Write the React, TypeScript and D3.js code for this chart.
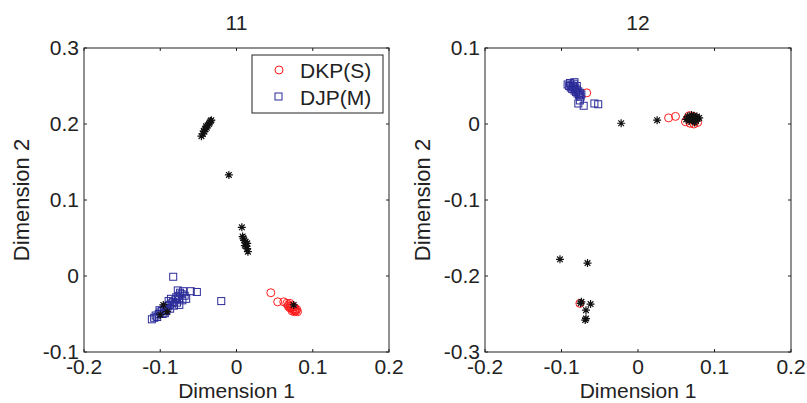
import React from "react";
import * as d3 from "d3";

type Pt = [number, number];

// Panel "11"
const xTicks = [-0.2, -0.1, 0, 0.1, 0.2];
const yTicks11 = [-0.1, 0, 0.1, 0.2, 0.3];
const yTicks12 = [-0.3, -0.2, -0.1, 0, 0.1];

const dkp11: Pt[] = [
  [0.045, -0.022], [0.054, -0.034], [0.062, -0.034], [0.066, -0.036], [0.068, -0.038],
  [0.070, -0.036], [0.071, -0.040], [0.072, -0.042], [0.073, -0.039], [0.074, -0.044],
  [0.075, -0.041], [0.076, -0.045], [0.077, -0.043], [0.078, -0.046], [0.079, -0.044],
  [0.070, -0.042], [0.073, -0.046], [0.076, -0.047], [0.068, -0.040], [0.080, -0.047],
];
const djp11: Pt[] = [
  [-0.111, -0.057], [-0.108, -0.055], [-0.106, -0.052], [-0.104, -0.054], [-0.102, -0.050],
  [-0.100, -0.048], [-0.098, -0.046], [-0.097, -0.050], [-0.095, -0.044], [-0.093, -0.042],
  [-0.092, -0.046], [-0.090, -0.040], [-0.088, -0.038], [-0.087, -0.043], [-0.085, -0.036],
  [-0.083, -0.034], [-0.082, -0.039], [-0.080, -0.031], [-0.079, -0.028], [-0.078, -0.035],
  [-0.076, -0.026], [-0.075, -0.030], [-0.074, -0.022], [-0.072, -0.024], [-0.071, -0.032],
  [-0.070, -0.020], [-0.068, -0.026], [-0.083, -0.001], [-0.060, -0.020], [-0.052, -0.021],
  [-0.020, -0.033], [-0.066, -0.030], [-0.075, -0.038], [-0.101, -0.045], [-0.089, -0.033],
  [-0.077, -0.019], [-0.086, -0.030], [-0.094, -0.049],
];
const other11: Pt[] = [
  [-0.046, 0.184], [-0.044, 0.187], [-0.042, 0.190], [-0.041, 0.193], [-0.039, 0.195],
  [-0.038, 0.198], [-0.036, 0.200], [-0.035, 0.202], [-0.034, 0.204], [-0.033, 0.205],
  [-0.043, 0.191], [-0.040, 0.197], [-0.010, 0.133], [0.007, 0.064], [0.009, 0.050],
  [0.010, 0.047], [0.012, 0.045], [0.014, 0.043], [0.011, 0.040], [0.013, 0.039],
  [0.008, 0.052], [0.014, 0.036], [0.015, 0.032], [-0.100, -0.051], [-0.091, -0.047],
  [-0.096, -0.038], [0.075, -0.038],
];

// Panel "12"
const dkp12: Pt[] = [
  [-0.067, 0.041], [0.040, 0.008], [0.049, 0.010], [0.062, 0.003], [0.065, 0.008],
  [0.068, 0.001], [0.070, 0.006], [0.072, 0.010], [0.074, 0.004], [0.076, 0.008],
  [0.078, 0.002], [0.067, 0.011], [0.073, 0.000], [-0.076, -0.236],
];
const djp12: Pt[] = [
  [-0.092, 0.052], [-0.090, 0.050], [-0.089, 0.054], [-0.088, 0.048], [-0.087, 0.051],
  [-0.086, 0.046], [-0.085, 0.049], [-0.084, 0.053], [-0.083, 0.044], [-0.082, 0.047],
  [-0.081, 0.042], [-0.080, 0.045], [-0.079, 0.040], [-0.078, 0.043], [-0.077, 0.038],
  [-0.076, 0.041], [-0.075, 0.036], [-0.074, 0.039], [-0.080, 0.050], [-0.083, 0.055],
  [-0.078, 0.027], [-0.071, 0.024], [-0.057, 0.027], [-0.052, 0.026], [-0.076, 0.031],
];
const other12: Pt[] = [
  [-0.022, 0.001], [0.025, 0.005], [0.063, 0.006], [0.065, 0.010], [0.067, 0.004],
  [0.069, 0.009], [0.070, 0.012], [0.071, 0.005], [0.072, 0.008], [0.073, 0.011],
  [0.074, 0.006], [0.075, 0.009], [0.076, 0.004], [0.077, 0.010], [0.078, 0.007],
  [0.080, 0.008], [0.068, 0.007], [0.074, 0.002],
  [-0.102, -0.178], [-0.066, -0.183], [-0.075, -0.236], [-0.074, -0.234],
  [-0.062, -0.237], [-0.068, -0.245], [-0.068, -0.256], [-0.069, -0.258],
];

const RED = "#ff1a1a";
const BLUE = "#2b2b99";
const FONT = "'Liberation Sans', Arial, Helvetica, sans-serif";

const starPath = (r: number) => {
  const d = r * Math.SQRT1_2;
  return `M${-r},0L${r},0M0,${-r}L0,${r}M${-d},${-d}L${d},${d}M${-d},${d}L${d},${-d}`;
};

interface PanelProps {
  title: string;
  left: number;
  right: number;
  top: number;
  bottom: number;
  yDomain: [number, number];
  yTicks: number[];
  dkp: Pt[];
  djp: Pt[];
  other: Pt[];
  legend?: boolean;
}

const fmt = (v: number) => (Math.abs(v) < 1e-9 ? "0" : String(+v.toFixed(1)));

function Panel(p: PanelProps) {
  const x = d3.scaleLinear().domain([-0.2, 0.2]).range([p.left, p.right]);
  const y = d3.scaleLinear().domain(p.yDomain).range([p.bottom, p.top]);
  const tl = 3;
  const cx = (p.left + p.right) / 2;
  const cy = (p.top + p.bottom) / 2;
  return (
    <g>
      <rect x={p.left} y={p.top} width={p.right - p.left} height={p.bottom - p.top}
        fill="#fff" stroke="#222" strokeWidth={1} />
      {xTicks.map((t) => (
        <g key={"x" + t}>
          <line x1={x(t)} x2={x(t)} y1={p.bottom} y2={p.bottom - tl} stroke="#222" />
          <line x1={x(t)} x2={x(t)} y1={p.top} y2={p.top + tl} stroke="#222" />
          <text x={x(t)} y={p.bottom + 22} textAnchor="middle" fontSize={21}
            fontFamily={FONT} fill="#222">{fmt(t)}</text>
        </g>
      ))}
      {p.yTicks.map((t) => (
        <g key={"y" + t}>
          <line x1={p.left} x2={p.left + tl} y1={y(t)} y2={y(t)} stroke="#222" />
          <line x1={p.right} x2={p.right - tl} y1={y(t)} y2={y(t)} stroke="#222" />
          <text x={p.left - 5} y={y(t) + 7} textAnchor="end" fontSize={21}
            fontFamily={FONT} fill="#222">{fmt(t)}</text>
        </g>
      ))}
      <text x={cx} y={30} textAnchor="middle" fontSize={21} fontFamily={FONT} fill="#222">
        {p.title}
      </text>
      <text x={cx} y={398} textAnchor="middle" fontSize={21} fontFamily={FONT} fill="#222">
        Dimension 1
      </text>
      <text transform={`translate(${p.left - 55},${cy}) rotate(-90)`} textAnchor="middle"
        fontSize={22} fontFamily={FONT} fill="#222">Dimension 2</text>
      <g>
        {p.dkp.map((d, i) => (
          <circle key={"r" + i} cx={x(d[0])} cy={y(d[1])} r={4} fill="none" stroke={RED} strokeWidth={1} />
        ))}
        {p.djp.map((d, i) => (
          <rect key={"b" + i} x={x(d[0]) - 3.5} y={y(d[1]) - 3.5} width={7} height={7}
            fill="none" stroke={BLUE} strokeWidth={1} />
        ))}
        {p.other.map((d, i) => (
          <path key={"k" + i} d={starPath(4)} transform={`translate(${x(d[0])},${y(d[1])})`}
            stroke="#111" strokeWidth={1.2} fill="none" />
        ))}
      </g>
      {p.legend && (
        <g>
          <rect x={252} y={55} width={131} height={58} fill="#fff" stroke="#222" />
          <circle cx={279} cy={70} r={4} fill="none" stroke={RED} />
          <text x={300} y={78} fontSize={21} fontFamily={FONT} fill="#222">DKP(S)</text>
          <rect x={275} y={93} width={7} height={7} fill="none" stroke={BLUE} />
          <text x={300} y={105} fontSize={21} fontFamily={FONT} fill="#222">DJP(M)</text>
        </g>
      )}
    </g>
  );
}

export default function App() {
  return (
    <svg width={807} height={403} style={{ position: "absolute", left: 0, top: 0, background: "#fff" }}>
      <rect width={807} height={403} fill="#fff" />
      <Panel title="11" left={84} right={389} top={48} bottom={352}
        yDomain={[-0.1, 0.3]} yTicks={yTicks11} dkp={dkp11} djp={djp11} other={other11} legend />
      <Panel title="12" left={485} right={791} top={48} bottom={352}
        yDomain={[-0.3, 0.1]} yTicks={yTicks12} dkp={dkp12} djp={djp12} other={other12} />
    </svg>
  );
}
